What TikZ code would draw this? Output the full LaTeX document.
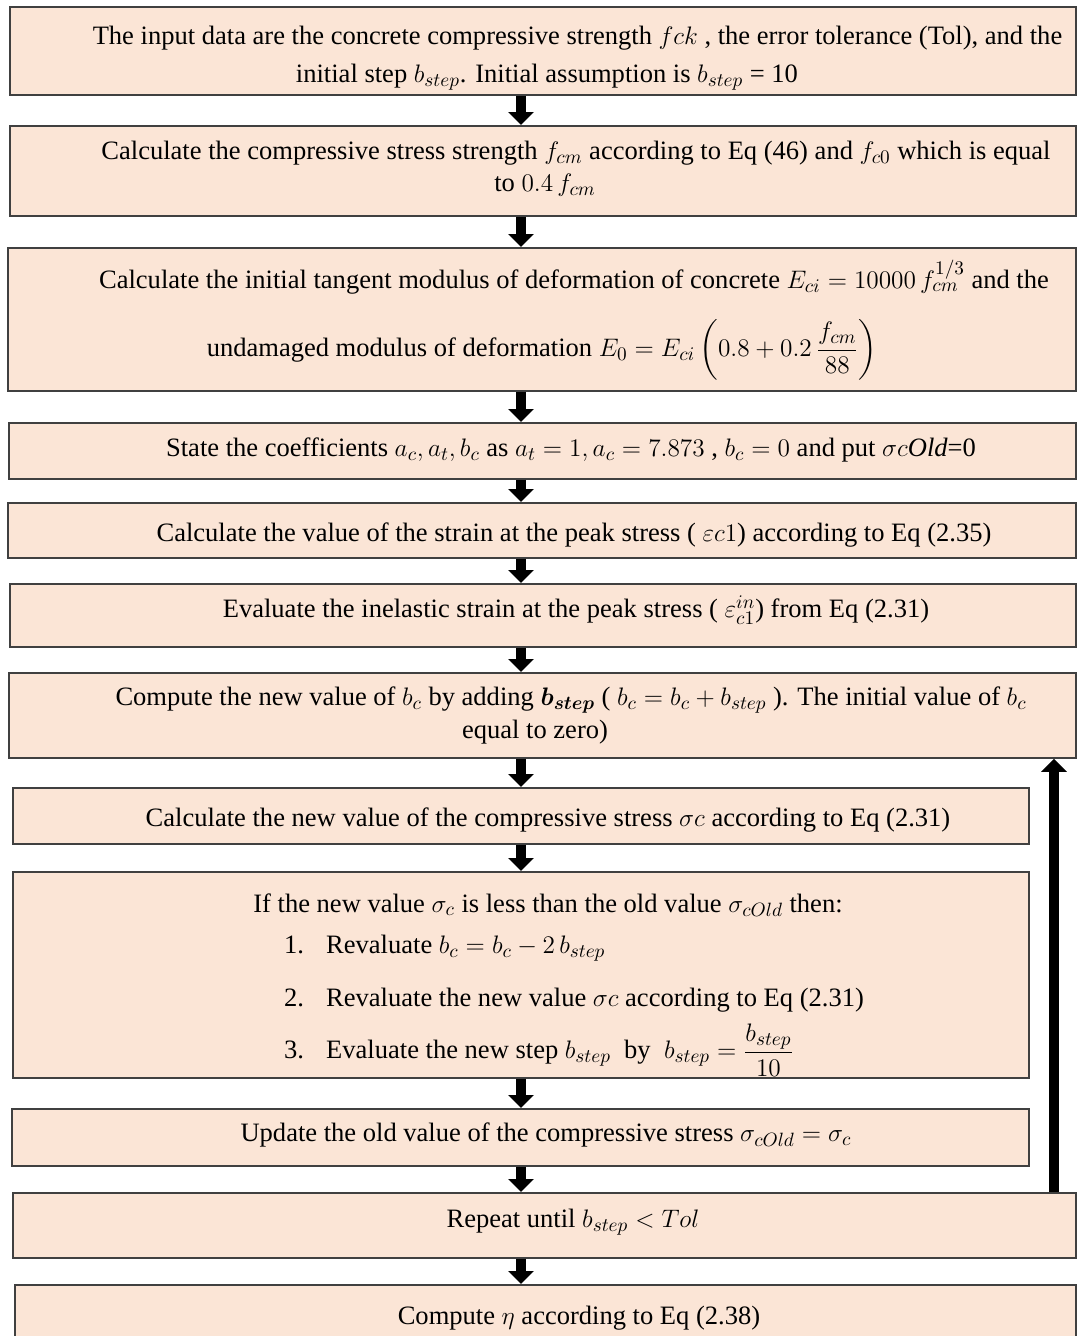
\documentclass[tikz,border=0pt]{standalone}
\usepackage{fontspec}
\setmainfont{Liberation Serif}
\usepackage{amsmath}
\usetikzlibrary{arrows.meta}

\definecolor{peach}{RGB}{251,229,214}
\definecolor{edgegray}{RGB}{64,64,64}

\tikzset{
  stepbox/.style={draw=edgegray, fill=peach, line width=1pt, inner sep=0pt, anchor=north west},
  flowarrow/.style={line width=0.2cm, -{Triangle[width=0.5cm,length=0.26cm]}},
  itemline/.style={anchor=west}
}

\begin{document}
\begin{tikzpicture}[font=\fontsize{15.1}{17}\selectfont]
\useasboundingbox (0,0) rectangle (21.56,-26.72);

\node[stepbox, minimum width=21.32cm, minimum height=1.76cm] (b1) at (0.18,-0.12) {};
\node[stepbox, minimum width=21.32cm, minimum height=1.80cm] (b2) at (0.18,-2.50) {};
\node[stepbox, minimum width=21.36cm, minimum height=2.86cm] (b3) at (0.14,-4.94) {};
\node[stepbox, minimum width=21.34cm, minimum height=1.12cm] (b4) at (0.16,-8.44) {};
\node[stepbox, minimum width=21.36cm, minimum height=1.10cm] (b5) at (0.14,-10.04) {};
\node[stepbox, minimum width=21.32cm, minimum height=1.26cm] (b6) at (0.18,-11.66) {};
\node[stepbox, minimum width=21.34cm, minimum height=1.70cm] (b7) at (0.16,-13.44) {};
\node[stepbox, minimum width=20.32cm, minimum height=1.12cm] (b8) at (0.24,-15.74) {};
\node[stepbox, minimum width=20.32cm, minimum height=4.12cm] (b9) at (0.24,-17.42) {};
\node[stepbox, minimum width=20.34cm, minimum height=1.14cm] (b10) at (0.22,-22.16) {};
\node[stepbox, minimum width=21.26cm, minimum height=1.30cm] (b11) at (0.24,-23.84) {};
\node[stepbox, minimum width=21.22cm, minimum height=1.40cm] (b12) at (0.28,-25.68) {};

\node (t1a) at (11.55,-0.76) {The input data are the concrete compressive strength $fck$ , the error tolerance (Tol), and the};
\node (t1b) at (10.94,-1.54) {initial step $b_{step}$. Initial assumption is $b_{step}$ = 10};

\node (t2a) at (11.52,-3.06) {Calculate the compressive stress strength $f_{cm}$ according to Eq (46) and $f_{c0}$ which is equal};
\node (t2b) at (10.90,-3.70) {to $0.4\,f_{cm}$};

\node (t3a) at (11.48,-5.54) {Calculate the initial tangent modulus of deformation of concrete $E_{ci}=10000\,f_{cm}^{1/3}$ and the};
\node (t3b) at (10.84,-7.00) {undamaged modulus of deformation $E_0=E_{ci}\left(0.8+0.2\,\dfrac{f_{cm}}{88}\right)$};

\node (t4) at (11.42,-9.00) {State the coefficients $a_c, a_t, b_c$ as $a_t=1, a_c=7.873$ , $b_c=0$ and put $\sigma c\mathit{Old}$=0};

\node (t5) at (11.48,-10.70) {Calculate the value of the strain at the peak stress ( $\varepsilon c1$) according to Eq (2.35)};

\node (t6) at (11.52,-12.20) {Evaluate the inelastic strain at the peak stress ( $\varepsilon_{c1}^{in}$) from Eq (2.31)};

\node (t7a) at (11.42,-14.00) {Compute the new value of $b_c$ by adding $\boldsymbol{b_{step}}$ ( $b_c=b_c+b_{step}$ ). The initial value of $b_c$};
\node (t7b) at (10.70,-14.64) {equal to zero)};

\node (t8) at (10.96,-16.40) {Calculate the new value of the compressive stress $\sigma c$ according to Eq (2.31)};

%loop box
\node (t9) at (10.96,-18.10) {If the new value $\sigma_c$ is less than the old value $\sigma_{cOld}$ then:};
\node[itemline] (t9a) at (5.56,-18.96) {\makebox[0.84cm][l]{1.}Revaluate $b_c=b_c-2\,b_{step}$};
\node[itemline] (t9b) at (5.56,-20.00) {\makebox[0.84cm][l]{2.}Revaluate the new value $\sigma c$ according to Eq (2.31)};
\begin{scope}
\clip (b9.north west) rectangle (b9.south east);
\node[itemline] (t9c) at (5.56,-21.00) {\makebox[0.84cm][l]{3.}Evaluate the new step $b_{step}$ \ by \ $b_{step}=\dfrac{b_{step}}{10}$};
\end{scope}

\node (t10) at (10.92,-22.70) {Update the old value of the compressive stress $\sigma_{cOld}=\sigma_c$};

\node (t11) at (11.46,-24.44) {Repeat until $b_{step}<Tol$};

\node (t12) at (11.58,-26.36) {Compute $\eta$ according to Eq (2.38)};

% arrows
\coordinate (ax) at (10.42,0);
\coordinate (fx) at (21.08,0);

\draw[flowarrow] (b1.south -| ax) -- (b2.north -| ax);
\draw[flowarrow] (b2.south -| ax) -- (b3.north -| ax);
\draw[flowarrow] (b3.south -| ax) -- (b4.north -| ax);
\draw[flowarrow] (b4.south -| ax) -- (b5.north -| ax);
\draw[flowarrow] (b5.south -| ax) -- (b6.north -| ax);
\draw[flowarrow] (b6.south -| ax) -- (b7.north -| ax);
\draw[flowarrow] (b7.south -| ax) -- (b8.north -| ax);
\draw[flowarrow] (b8.south -| ax) -- (b9.north -| ax);
\draw[flowarrow] (b9.south -| ax) -- (b10.north -| ax);
\draw[flowarrow] (b10.south -| ax) -- (b11.north -| ax);
\draw[flowarrow] (b11.south -| ax) -- (b12.north -| ax);

\draw[flowarrow] (b11.north -| fx) -- (b7.south -| fx); % back to b_c update

\end{tikzpicture}
\end{document}
